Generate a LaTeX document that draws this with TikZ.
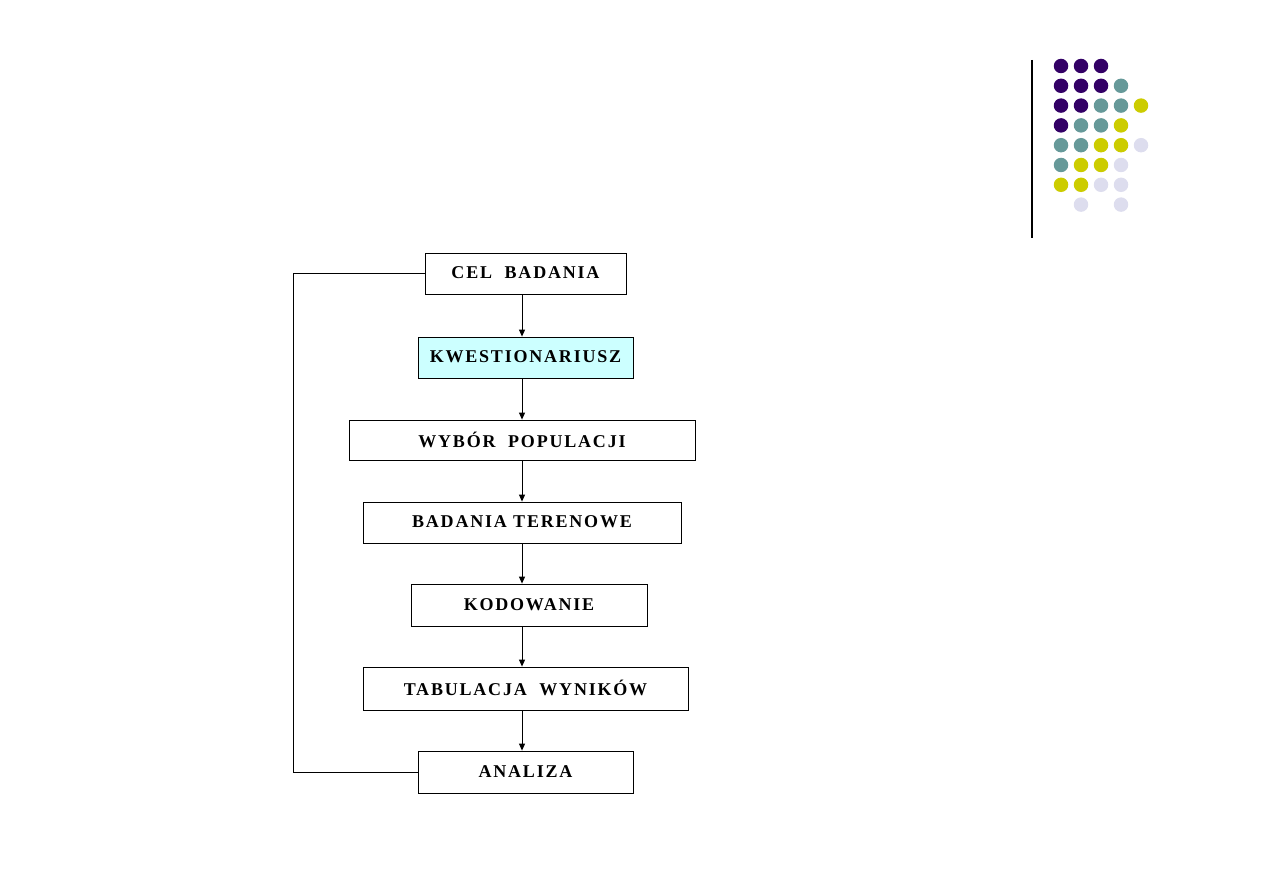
\documentclass[tikz,border=0pt]{standalone}
\usepackage{fontspec}
\setmainfont{Liberation Serif}
\usetikzlibrary{arrows.meta, calc}
\definecolor{dotP}{HTML}{330066}
\definecolor{dotT}{HTML}{669999}
\definecolor{dotY}{HTML}{CCCC00}
\definecolor{dotL}{HTML}{DDDDEE}
\definecolor{kwfill}{HTML}{CCFFFF}
\def\nodot{-}

\begin{document}
\begin{tikzpicture}[
  x=1pt, y=-1pt,
  font=\fontsize{18}{21}\selectfont\bfseries\addfontfeatures{LetterSpace=10},
  box/.style={rectangle, draw=black, line width=0.8pt, fill=white, inner sep=0pt,
              minimum height=41pt, text depth=1pt},
  e/.style={-{Triangle[length=7pt, width=6pt]}, draw=black, line width=0.9pt},
  back/.style={draw=black, line width=0.8pt},
  dot/.style={circle, fill=#1, minimum size=14.5pt, inner sep=0pt}
]
\useasboundingbox (0,0) rectangle (1263,893);

% ================================================= decoration (top right)
\draw[line width=2.6pt] (1032,60) -- (1032,238);
\foreach \row/\cols in {0/{P,P,P}, 1/{P,P,P,T}, 2/{P,P,T,T,Y}, 3/{P,T,T,Y},
                        4/{T,T,Y,Y,L}, 5/{T,Y,Y,L}, 6/{Y,Y,L,L}, 7/{-,L,-,L}} {
  \foreach \c [count=\k from 0] in \cols {
    \ifx\c\nodot\else
      \node[dot=dot\c] (d\row\k) at (1061+20*\k, 66+19.8*\row) {};
    \fi
  }
}

% ================================================= flow chart
\node[box, minimum width=201pt] (cel)  at (525.5,273.5) {CEL\ \ BADANIA};
\node[box, minimum width=215pt, fill=kwfill] (kwe) at (525.5,357.5) {KWESTIONARIUSZ};
\node[box, minimum width=346pt, minimum height=40pt] (wyb) at (522,440) {WYBÓR\ \ POPULACJI};
\node[box, minimum width=318pt] (ter)  at (522,522.5) {BADANIA TERENOWE};
\node[box, minimum width=236pt, minimum height=42pt] (kod) at (529,605) {KODOWANIE};
\node[box, minimum width=325pt, minimum height=43pt] (tab) at (525.5,688.5) {TABULACJA\ \ WYNIKÓW};
\node[box, minimum width=215pt, minimum height=42pt] (ana) at (525.5,772) {ANALIZA};

\coordinate (ax) at (522,0);
\draw[e] (cel.south -| ax) -- (kwe.north -| ax);
\draw[e] (kwe.south -| ax) -- (wyb.north -| ax);
\draw[e] (wyb.south -| ax) -- (ter.north -| ax);
\draw[e] (ter.south -| ax) -- (kod.north -| ax);
\draw[e] (kod.south -| ax) -- (tab.north -| ax);
\draw[e] (tab.south -| ax) -- (ana.north -| ax);

% feedback loop on the left
\coordinate (lx) at (293,0);
\draw[back] (cel.west) -- (cel.west -| lx) -- (ana.west -| lx) -- (ana.west);

\end{tikzpicture}
\end{document}
